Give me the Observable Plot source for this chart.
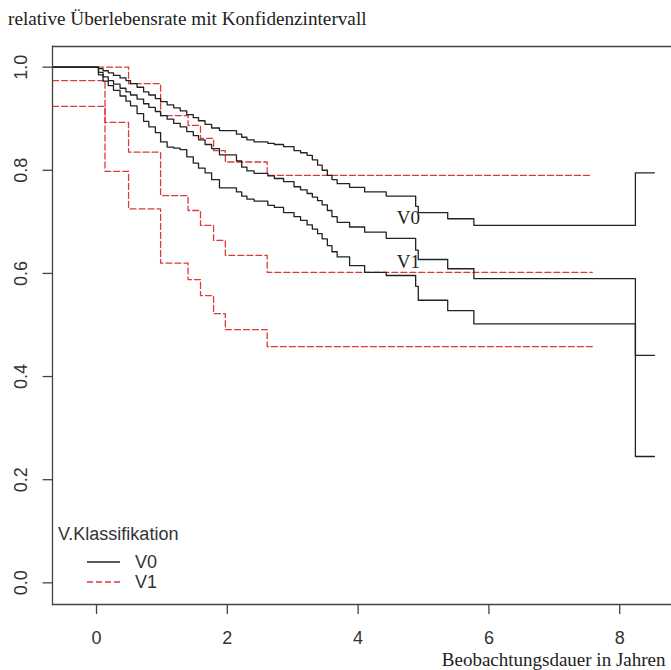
<!DOCTYPE html>
<html>
<head>
<meta charset="utf-8">
<script src="https://cdn.jsdelivr.net/npm/d3@7"></script>
<script src="https://cdn.jsdelivr.net/npm/@observablehq/plot@0.6"></script>
<style>
  html, body { margin: 0; padding: 0; background: #fff; overflow: hidden; }
  #wrap { position: relative; width: 671px; height: 670px; }
  #title { position: absolute; left: 8px; top: 8px; font: 19.2px "Liberation Serif", serif; color: #222; white-space: nowrap; line-height: 22px; }
  #chart { position: absolute; left: 0; top: 40px; }
  #legend { position: absolute; left: 0; top: 0; }
</style>
</head>
<body>
<div id="wrap">
  <div id="title">relative Überlebensrate mit Konfidenzintervall</div>
  <div id="chart"></div>
  <svg id="legend" width="220" height="670"></svg>
</div>
<script>
// ---- Data (Kaplan–Meier curves with confidence bands) ----
// V0: step times (years) and values after each step
const v0Time  = [-0.67, 0.03, 0.10, 0.18, 0.26, 0.36, 0.45, 0.52, 0.62, 0.72, 0.80, 0.90, 0.98, 1.08, 1.18, 1.28, 1.38, 1.48, 1.56, 1.66, 1.76, 1.88, 2.14, 2.22, 2.30, 2.41, 2.62, 2.72, 2.86, 3.02, 3.12, 3.22, 3.30, 3.38, 3.45, 3.53, 3.60, 3.68, 3.87, 4.10, 4.43, 4.88, 4.92, 5.37, 5.77, 8.24];
const v0Est   = [1.000, 0.990, 0.981, 0.974, 0.967, 0.959, 0.952, 0.946, 0.938, 0.929, 0.922, 0.914, 0.906, 0.899, 0.891, 0.884, 0.875, 0.867, 0.859, 0.850, 0.842, 0.830, 0.818, 0.806, 0.799, 0.794, 0.789, 0.784, 0.778, 0.768, 0.762, 0.755, 0.748, 0.741, 0.733, 0.722, 0.710, 0.699, 0.690, 0.680, 0.668, 0.645, 0.627, 0.609, 0.590, 0.441];
const v0Upper = [1.000, 0.997, 0.993, 0.989, 0.984, 0.979, 0.974, 0.968, 0.961, 0.952, 0.946, 0.939, 0.933, 0.927, 0.921, 0.915, 0.908, 0.902, 0.896, 0.889, 0.882, 0.877, 0.870, 0.864, 0.859, 0.855, 0.852, 0.850, 0.846, 0.838, 0.834, 0.829, 0.820, 0.810, 0.800, 0.790, 0.782, 0.774, 0.767, 0.758, 0.750, 0.730, 0.718, 0.706, 0.693, 0.795];
const v0Lower = [1.000, 0.985, 0.973, 0.964, 0.955, 0.944, 0.934, 0.925, 0.910, 0.895, 0.884, 0.873, 0.855, 0.845, 0.843, 0.840, 0.826, 0.814, 0.804, 0.795, 0.782, 0.766, 0.758, 0.750, 0.744, 0.740, 0.732, 0.728, 0.718, 0.710, 0.703, 0.694, 0.686, 0.677, 0.667, 0.654, 0.642, 0.632, 0.615, 0.602, 0.596, 0.575, 0.548, 0.528, 0.502, 0.245];
const v0End = 8.53;

// V1
const v1Time  = [-0.67, 0.13, 0.49, 0.98, 1.40, 1.59, 1.79, 1.97, 2.61];
const v1Est   = [0.974, 0.893, 0.835, 0.751, 0.722, 0.693, 0.664, 0.635, 0.602];
const v1Upper = [1.000, 1.000, 0.968, 0.906, 0.887, 0.862, 0.838, 0.816, 0.790];
const v1Lower = [0.924, 0.798, 0.725, 0.620, 0.588, 0.557, 0.522, 0.491, 0.458];
const v1End = 7.58;

// in-plot curve labels
const curveLabels = [
  { t: 4.77, v: 0.708, label: "V0" },
  { t: 4.77, v: 0.623, label: "V1" }
];

// axis ticks and texts
const xTicks = [0, 2, 4, 6, 8];
const yTicks = [0.0, 0.2, 0.4, 0.6, 0.8, 1.0];
const xLabel = "Beobachtungsdauer in Jahren";
const legendTitle = "V.Klassifikation";
const groups = ["V0", "V1"];

// ---- build step rows ----
function steps(group, part, times, vals, end) {
  const rows = times.map((t, i) => ({ group, part, key: group + part, t, v: vals[i] }));
  rows.push({ group, part, key: group + part, t: end, v: vals[vals.length - 1] });
  return rows;
}
const rowsV0 = [
  ...steps("V0", "upper", v0Time, v0Upper, v0End),
  ...steps("V0", "est",   v0Time, v0Est,   v0End),
  ...steps("V0", "lower", v0Time, v0Lower, v0End)
];
const rowsV1 = [
  ...steps("V1", "upper", v1Time, v1Upper, v1End),
  ...steps("V1", "est",   v1Time, v1Est,   v1End),
  ...steps("V1", "lower", v1Time, v1Lower, v1End)
];

const black = "#222";
const red = "#dc3b3b";
const axisCol = "#444";
const textCol = "#333";

const chart = Plot.plot({
  width: 671,
  height: 630,
  marginLeft: 52,
  marginRight: 0,
  marginTop: 6,
  marginBottom: 66,
  style: { fontFamily: "'Liberation Sans', Arial, sans-serif", background: "transparent", overflow: "visible" },
  x: { domain: [-0.673, 8.792], axis: null },
  y: { domain: [-0.042, 1.040], axis: null },
  marks: [
    Plot.line(rowsV1, { x: "t", y: "v", z: "key", curve: "step-after", stroke: red, strokeWidth: 1.3, strokeDasharray: "6,3" }),
    Plot.line(rowsV0, { x: "t", y: "v", z: "key", curve: "step-after", stroke: black, strokeWidth: 1.3 }),
    Plot.frame({ anchor: "left", stroke: axisCol, strokeWidth: 1.3 }),
    Plot.frame({ anchor: "top", stroke: axisCol, strokeWidth: 1.3 }),
    Plot.frame({ anchor: "bottom", stroke: axisCol, strokeWidth: 1.3 }),
    Plot.axisX(xTicks, { anchor: "bottom", tickSize: 10, tickPadding: 17, tickFormat: d => String(d), label: null, fontSize: 18, color: textCol, stroke: axisCol, strokeWidth: 1.3 }),
    Plot.axisY(yTicks, { anchor: "left", tickSize: 9.5, tickFormat: () => "", label: null, stroke: axisCol, strokeWidth: 1.3 }),
    Plot.text(yTicks, { y: d => d, text: d => d.toFixed(1), frameAnchor: "left", dx: -31, rotate: -90, textAnchor: "middle", lineAnchor: "middle", fontSize: 18, fill: textCol }),
    Plot.text(curveLabels, { x: "t", y: "v", text: "label", fontFamily: "'Liberation Serif', serif", fontSize: 19, fill: "#222", lineAnchor: "middle" }),
    Plot.text([xLabel], { text: d => d, frameAnchor: "bottom-right", dx: -6, dy: 61, textAnchor: "end", lineAnchor: "bottom", fontFamily: "'Liberation Serif', serif", fontSize: 19, fill: "#222" })
  ]
});
document.getElementById("chart").appendChild(chart);

// ---- legend (inside plot area, bottom-left) ----
const leg = d3.select("#legend");
leg.append("text").attr("x", 58).attr("y", 534).attr("dy", "0.35em")
  .attr("font-family", "'Liberation Sans', Arial, sans-serif").attr("font-size", 18).attr("fill", textCol)
  .text(legendTitle);
groups.forEach((g, i) => {
  const y = 562 + i * 20;
  leg.append("line").attr("x1", 87).attr("x2", 120).attr("y1", y).attr("y2", y)
    .attr("stroke", g === "V0" ? black : red).attr("stroke-width", 1.3)
    .attr("stroke-dasharray", g === "V0" ? null : "6,3");
  leg.append("text").attr("x", 135).attr("y", y).attr("dy", "0.35em")
    .attr("font-family", "'Liberation Sans', Arial, sans-serif").attr("font-size", 18).attr("fill", textCol)
    .text(g);
});
</script>
</body>
</html>
